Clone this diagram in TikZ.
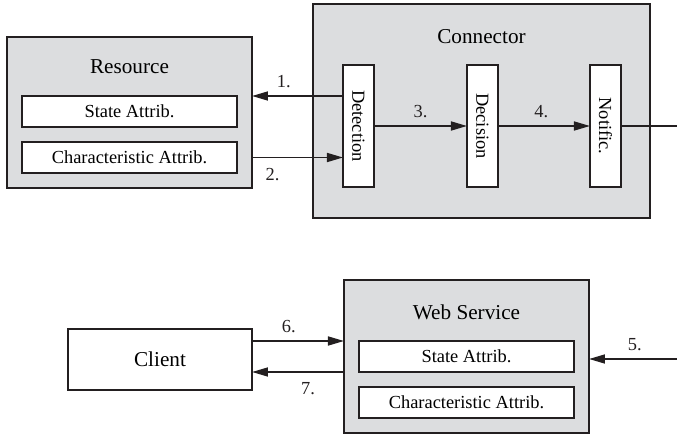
\documentclass[tikz,border=0pt]{standalone}
\usepackage{fontspec}
\setmainfont{Liberation Serif}
\usetikzlibrary{positioning,arrows.meta}
\definecolor{boxgray}{HTML}{DCDDDF}
\definecolor{inkgray}{HTML}{231F20}

\begin{document}
\begin{tikzpicture}[x=0.5pt, y=-0.5pt,
      font=\fontsize{9.2}{11}\selectfont,
      comp/.style={draw=inkgray, fill=boxgray, line width=0.8pt, inner sep=0pt, outer sep=0pt},
      attr/.style={draw=inkgray, fill=white, line width=0.8pt, inner sep=0pt, outer sep=0pt,
                   minimum width=107.5pt, minimum height=15.5pt},
      stage/.style={attr, minimum width=15.5pt, minimum height=61pt},
      titl/.style={font=\fontsize{10.6}{12}\selectfont},
      arr/.style={-{Triangle[length=8pt, width=4.5pt]}, inkgray, line width=0.8pt},
      wire/.style={inkgray, line width=0.8pt},
      lbl/.style={inner sep=3.5pt}]
    \useasboundingbox (0,0) rectangle (677,434);
    % resource
    \node[comp, minimum width=122.5pt, minimum height=75.5pt] (res) at (129.5,112.5) {};
    \node[titl] (resT) at ([yshift=-15pt]res.north) {Resource};
    \node[attr] (resState) at (129.5,111.5) {State Attrib.};
    \node[attr, below=7.5pt of resState] (resChar) {Characteristic Attrib.};
    % connector
    \node[comp, minimum width=168.5pt, minimum height=107pt] (con) at (481.5,111) {};
    \node[titl] (conT) at ([yshift=-16.5pt]con.north) {Connector};
    \node[stage] (det) at (358.5,126) {\rotatebox{-90}{Detection}};
    \node[stage, right=46.5pt of det] (dec) {\rotatebox{-90}{Decision}};
    \node[stage, right=46pt of dec] (ntf) {\rotatebox{-90}{Notific.}};
    % web service
    \node[comp, minimum width=122.5pt, minimum height=76.5pt] (ws) at (466.5,356.5) {};
    \node[titl] (wsT) at ([yshift=-16pt]ws.north) {Web Service};
    \node[attr] (wsState) at (466.5,356.5) {State Attrib.};
    \node[attr, below=7.5pt of wsState] (wsChar) {Characteristic Attrib.};
    % client
    \node[comp, fill=white, titl, minimum width=92pt, minimum height=30.5pt] (cli) at (160,359.5) {Client};
    \coordinate (out4) at (677,126);
    \coordinate (in5) at (677,359);
    \draw[arr] (resState.north -| det.west) -- node[lbl, above, pos=0.65] {1.} (resState.north -| res.east);
    \draw[arr] (resChar.east -| res.east) -- node[lbl, below=1.5pt, pos=0.225] {2.} (resChar.east -| det.west);
    \draw[arr] (det) -- node[lbl, above] {3.} (dec);
    \draw[arr] (dec) -- node[lbl, above, pos=0.47] {4.} (ntf);
    \draw[wire] (ntf.east) -- (out4);
    \draw[arr] (in5) -- node[lbl, above, pos=0.48] {5.} (in5 -| ws.east);
    \draw[arr] (wsState.north -| cli.east) -- node[lbl, above, pos=0.4] {6.} (wsState.north -| ws.west);
    \draw[arr] (wsState.south -| ws.west) -- node[lbl, below=1.5pt, pos=0.39] {7.} (wsState.south -| cli.east);
  \end{tikzpicture}
\end{document}
